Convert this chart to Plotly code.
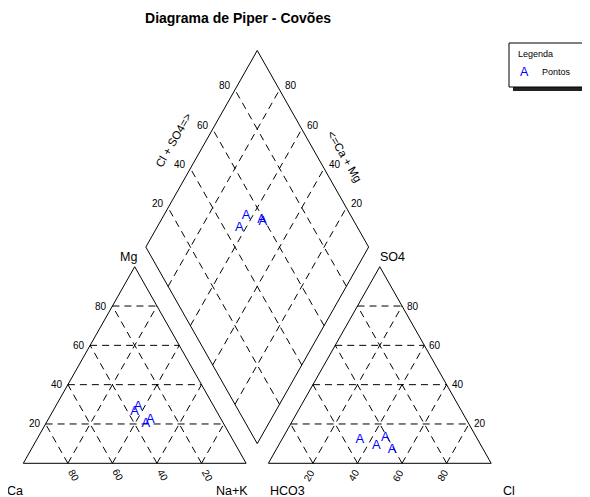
import numpy as np
import plotly.graph_objects as go

title = "Diagrama de Piper - Covões"

# percent of meq for each sample
ca = [34, 37, 35, 32]
mg = [29, 26, 20, 22]
nak = [37, 37, 45, 46]
hco3 = [53, 47, 41, 41]
so4 = [12, 9, 13, 7]
cl = [35, 44, 46, 52]

grid_vals = [20, 40, 60, 80]
point_symbol = "A"
legend_title = "Legenda"
legend_label = "Pontos"

GAP = 0.1
H = np.sqrt(3) / 2
FONT = "Liberation Sans, Arial, sans-serif"
BLUE = "#0000ff"

# the page body adds an 8px margin, so the figure is drawn 8px smaller and shifted
OFF = 8
W, HT = 590 - OFF, 497 - OFF
X0, SX = 23.3 - OFF, 222.8   # px of x=0, px per unit
Y0, SY = 463.3 - OFF, 227.0  # px of y=0, px per unit


def cation_xy(c_mg, c_nak):
    m, n = np.array(c_mg) / 100, np.array(c_nak) / 100
    return n + m / 2, m * H


def anion_xy(a_so4, a_cl):
    s, c = np.array(a_so4) / 100, np.array(a_cl) / 100
    return 1 + GAP + c + s / 2, s * H


B = np.array([1 + GAP / 2, GAP * H])   # bottom of diamond
U = np.array([0.5, H])                  # towards Cl+SO4 = 100
V = np.array([-0.5, H])                 # towards Ca+Mg = 100


def diamond_xy(s, c):
    s, c = np.array(s) / 100, np.array(c) / 100
    return B[0] + U[0] * s + V[0] * c, B[1] + U[1] * s + V[1] * c


fig = go.Figure()


def seg(p, q, dash=None):
    fig.add_trace(go.Scatter(x=[p[0], q[0]], y=[p[1], q[1]], mode="lines",
                             line=dict(color="black", width=1, dash=dash),
                             hoverinfo="skip", showlegend=False))


def poly(pts):
    pts = list(pts) + [pts[0]]
    fig.add_trace(go.Scatter(x=[p[0] for p in pts], y=[p[1] for p in pts], mode="lines",
                             line=dict(color="black", width=1),
                             hoverinfo="skip", showlegend=False))


DASH = "7px,5px"

# left (cation) triangle
for k in grid_vals:
    f = k / 100
    seg((f / 2, f * H), (1 - f / 2, f * H), DASH)
    seg((1 - f, 0), ((1 - f) / 2, (1 - f) * H), DASH)
    seg((f, 0), (f + (1 - f) / 2, (1 - f) * H), DASH)
poly([(0, 0), (1, 0), (0.5, H)])

# right (anion) triangle
ox = 1 + GAP
for k in grid_vals:
    f = k / 100
    seg((ox + f / 2, f * H), (ox + 1 - f / 2, f * H), DASH)
    seg((ox + 1 - f, 0), (ox + (1 - f) / 2, (1 - f) * H), DASH)
    seg((ox + f, 0), (ox + f + (1 - f) / 2, (1 - f) * H), DASH)
poly([(ox, 0), (ox + 1, 0), (ox + 0.5, H)])

# diamond
for k in grid_vals:
    f = k / 100
    seg(B + f * U, B + f * U + V, DASH)
    seg(B + f * V, B + f * V + U, DASH)
poly([B, B + U, B + U + V, B + V])

# points
pt_font = dict(family=FONT, size=13, color=BLUE)
for xy in (cation_xy(mg, nak), anion_xy(so4, cl),
           diamond_xy(np.add(cl, so4), np.add(ca, mg))):
    fig.add_trace(go.Scatter(x=xy[0], y=xy[1], mode="text", text=[point_symbol] * len(xy[0]),
                             textposition="middle center", textfont=pt_font,
                             hoverinfo="skip", showlegend=False))

tick_font = dict(family=FONT, size=10, color="black")
lab_font = dict(family=FONT, size=12.5, color="black")
axt_font = dict(family=FONT, size=11.5, color="black")


def note(x, y, text, xs=0, ys=0, xa="center", ya="middle", angle=0, font=tick_font):
    fig.add_annotation(x=x, y=y, text=text, showarrow=False, xshift=xs, yshift=ys,
                       xanchor=xa, yanchor=ya, textangle=angle, font=font)


for k in grid_vals:
    f = k / 100
    # cation: Mg on left side, Ca along base
    note(f / 2, f * H, str(k), xs=-3, xa="right")
    note(1 - f, 0, str(k), xs=6, ys=-12, angle=60)
    # anion: SO4 on right side, Cl along base
    note(ox + 1 - f / 2, f * H, str(k), xs=3, xa="left")
    note(ox + f, 0, str(k), xs=-4, ys=-12, angle=-60)
    # diamond upper edges
    p = B + V + f * U
    note(p[0], p[1], str(k), xs=-2, ys=4, xa="right")
    q = B + U + f * V
    note(q[0], q[1], str(k), xs=3, ys=4, xa="left")

pm = B + V + 0.5 * U
note(pm[0], pm[1], "Cl + SO4=>", xs=-28, ys=9, angle=-60, font=axt_font)
qm = B + U + 0.5 * V
note(qm[0], qm[1], "<=Ca + Mg", xs=32, ys=-8, angle=60, font=axt_font)

note(0, 0, "Ca", xs=-8, ys=-28, font=lab_font)
note(1, 0, "Na+K", xs=-14, ys=-28, font=lab_font)
note(ox, 0, "HCO3", xs=19, ys=-28, font=lab_font)
note(ox + 1, 0, "Cl", xs=18, ys=-28, font=lab_font)
note(0.5, H, "Mg", xs=-6, ys=10, font=lab_font)
note(ox + 0.5, H, "SO4", xs=13, ys=10, font=lab_font)


# legend box (page pixel positions -> paper)
def px(x): return (x - OFF) / W
def py(y): return 1 - (y - OFF) / HT


fig.add_shape(type="rect", xref="paper", yref="paper", x0=px(513), x1=px(594),
              y0=py(91), y1=py(47), fillcolor="#222222", line=dict(width=0), layer="above")
fig.add_shape(type="rect", xref="paper", yref="paper", x0=px(509), x1=px(589),
              y0=py(87), y1=py(43), fillcolor="white", line=dict(color="black", width=1),
              layer="above")
fig.add_annotation(xref="paper", yref="paper", x=px(516), y=py(54), text=legend_title,
                   showarrow=False, xanchor="left", yanchor="middle",
                   font=dict(family=FONT, size=9, color="black"))
fig.add_annotation(xref="paper", yref="paper", x=px(524), y=py(72), text=point_symbol,
                   showarrow=False, xanchor="center", yanchor="middle",
                   font=dict(family=FONT, size=12.5, color=BLUE))
fig.add_annotation(xref="paper", yref="paper", x=px(540), y=py(72), text=legend_label,
                   showarrow=False, xanchor="left", yanchor="middle",
                   font=dict(family=FONT, size=9, color="black"))

fig.update_layout(
    width=W, height=HT,
    margin=dict(l=0, r=0, t=0, b=0),
    paper_bgcolor="white", plot_bgcolor="white",
    title=dict(text="<b>" + title + "</b>", x=px(238), xanchor="center", y=py(18),
               yanchor="middle", font=dict(family=FONT, size=14, color="black")),
    xaxis=dict(range=[-X0 / SX, (W - X0) / SX], visible=False, fixedrange=True),
    yaxis=dict(range=[(Y0 - HT) / SY, Y0 / SY], visible=False, fixedrange=True),
    showlegend=False,
)

fig.write_html("out.html")
